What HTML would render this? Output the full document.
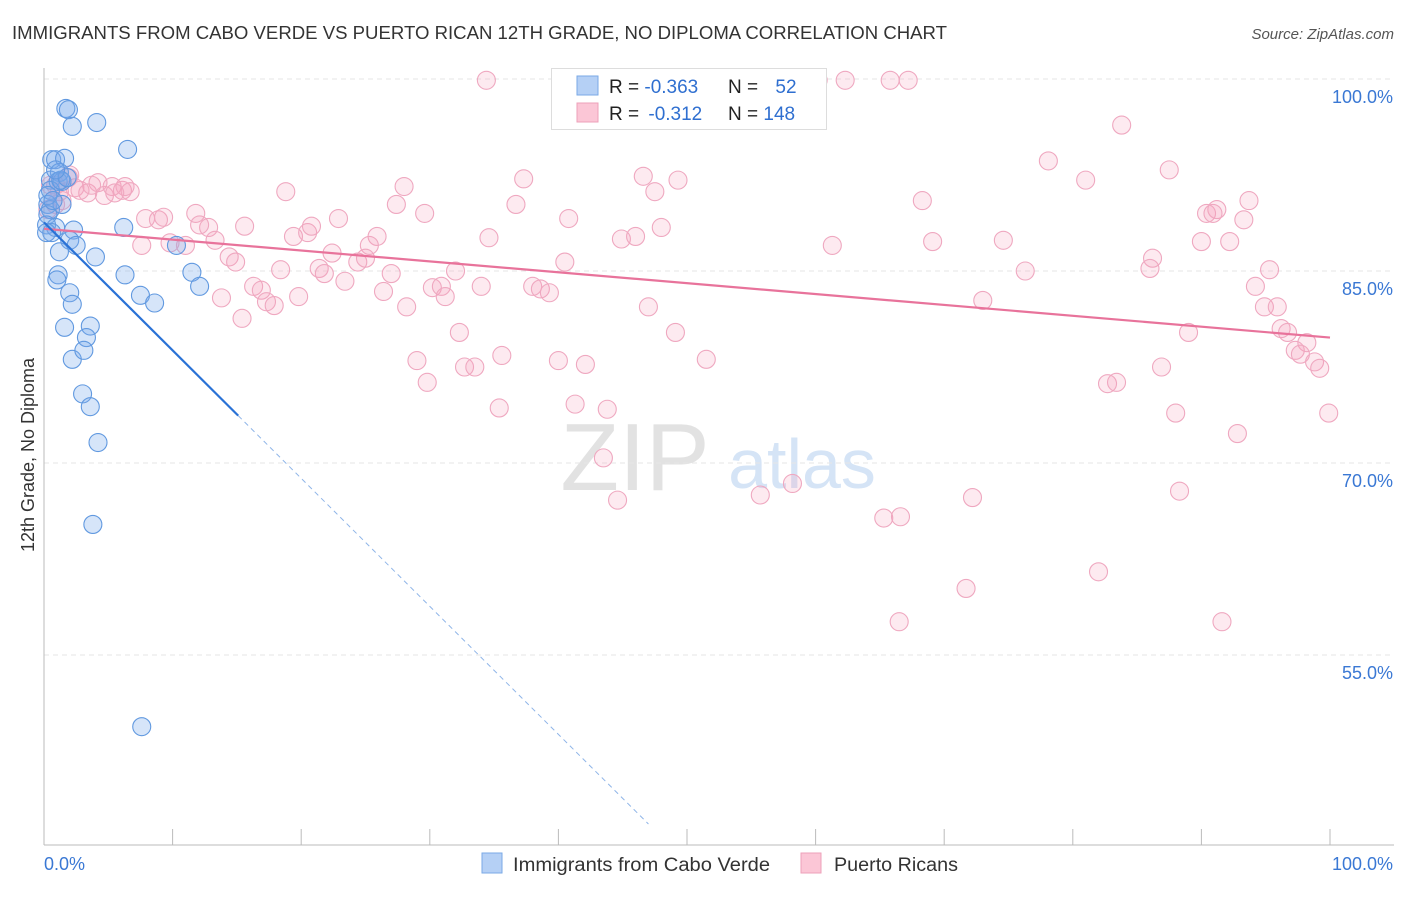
<!DOCTYPE html>
<html><head><meta charset="utf-8"><style>
body{margin:0;background:#fff;font-family:"Liberation Sans",sans-serif;}
svg text{font-family:"Liberation Sans",sans-serif;}
</style></head><body>
<svg id="c" width="1406" height="892" viewBox="0 0 1406 892">
<text x="12" y="39" font-size="18" fill="#333" textLength="935" lengthAdjust="spacingAndGlyphs">IMMIGRANTS FROM CABO VERDE VS PUERTO RICAN 12TH GRADE, NO DIPLOMA CORRELATION CHART</text>
<text x="1394" y="39" font-size="15" fill="#555" font-style="italic" text-anchor="end">Source: ZipAtlas.com</text>
<text x="635" y="490" font-size="96" fill="#e2e2e2" font-family="Liberation Serif" text-anchor="middle">ZIP</text>
<text x="802" y="488" font-size="70" fill="#d5e4f6" text-anchor="middle">atlas</text>
<g id="grid"></g><g id="axes"></g><g id="pts"></g><g id="lines"></g>
<text transform="translate(34,455) rotate(-90)" font-size="18" fill="#333" text-anchor="middle">12th Grade, No Diploma</text>
<g>
<rect x="551.5" y="68.5" width="275" height="61" fill="#fff" stroke="#ddd"/>
<rect x="577" y="76" width="21" height="19" fill="#b5d0f5" stroke="#7aa9e6"/>
<rect x="577" y="103" width="21" height="19" fill="#fbc6d6" stroke="#eea0b9"/>
<text x="609" y="93" font-size="19" fill="#222">R = <tspan fill="#2f6fd0">-0.363</tspan></text>
<text x="728" y="93" font-size="19" fill="#222">N = <tspan fill="#2f6fd0" dx="12">52</tspan></text>
<text x="609" y="120" font-size="19" fill="#222">R = <tspan fill="#2f6fd0" dx="4">-0.312</tspan></text>
<text x="728" y="120" font-size="19" fill="#222">N = <tspan fill="#2f6fd0">148</tspan></text>
</g>
<g>
<rect x="482" y="853" width="20" height="20" fill="#b5d0f5" stroke="#7aa9e6"/>
<text x="513" y="871" font-size="19" fill="#333" textLength="257" lengthAdjust="spacingAndGlyphs">Immigrants from Cabo Verde</text>
<rect x="801" y="853" width="20" height="20" fill="#fbc6d6" stroke="#eea0b9"/>
<text x="834" y="871" font-size="19" fill="#333" textLength="124" lengthAdjust="spacingAndGlyphs">Puerto Ricans</text>
</g>
</svg>
<script>
const blueX=[1.7,1.9,2.2,4.1,6.5,0.6,0.9,1.6,1.2,0.5,1.1,1.4,0.3,0.5,1.4,0.3,0.2,0.9,0.6,6.2,2.3,2.0,2.5,1.2,4.0,10.3,1.1,1.0,6.3,11.5,12.1,2.0,2.2,7.5,8.6,1.6,3.6,3.3,2.2,3.1,3.0,3.6,4.2,3.8,7.6,0.2,0.5,0.3,1.3,0.7,1.8,0.9];
const blueY=[97.7,97.6,96.3,96.6,94.5,93.7,93.7,93.8,92.7,92.1,92.0,92.0,90.2,89.8,90.2,89.4,88.6,88.4,88.0,88.4,88.2,87.4,87.0,86.5,86.1,87.0,84.7,84.3,84.7,84.9,83.8,83.3,82.4,83.1,82.5,80.6,80.7,79.8,78.1,78.8,75.4,74.4,71.6,65.2,49.4,88.0,91.3,90.9,92.1,90.5,92.3,92.9];
const pinkX=[34.4,59.7,60.2,62.3,65.8,67.2,83.8,78.1,87.5,81.0,46.6,37.3,49.3,47.5,28.0,18.8,36.7,27.4,29.6,68.3,93.7,90.4,91.2,90.9,93.3,40.8,22.9,7.9,8.9,9.3,11.8,12.8,12.1,15.6,9.8,11.0,13.3,19.4,20.5,20.8,25.9,25.3,7.6,34.6,44.9,46.0,48.0,61.3,69.1,74.6,90.0,92.2,14.4,14.9,22.4,24.4,25.0,40.5,86.2,86.0,18.4,21.4,21.8,23.4,27.0,32.0,76.3,95.3,16.3,16.9,19.8,17.3,17.9,13.8,26.4,30.2,30.9,31.2,34.0,38.0,38.6,39.3,28.2,47.0,73.0,94.2,94.9,95.9,15.4,32.3,49.1,89.0,96.2,96.7,98.2,97.3,97.7,98.8,99.2,29.0,32.7,33.5,35.6,40.0,42.1,51.5,86.9,29.8,82.7,83.4,35.4,41.3,43.8,88.0,99.9,92.8,43.5,44.6,55.7,58.2,72.2,88.3,65.3,66.6,82.0,71.7,66.5,91.6,0.9,1.2,1.9,2.4,3.4,4.2,4.7,5.3,6.1,6.7,6.3,3.7,1.4,0.5,2.0,0.9,0.3,2.8,5.5];
const pinkY=[99.9,99.9,99.9,99.9,99.9,99.9,96.4,93.6,92.9,92.1,92.4,92.2,92.1,91.2,91.6,91.2,90.2,90.2,89.5,90.5,90.5,89.5,89.8,89.5,89.0,89.1,89.1,89.1,89.0,89.2,89.5,88.4,88.6,88.5,87.2,87.0,87.4,87.7,88.0,88.5,87.7,87.0,87.0,87.6,87.5,87.7,88.4,87.0,87.3,87.4,87.3,87.3,86.1,85.7,86.4,85.7,86.0,85.7,86.0,85.2,85.1,85.2,84.8,84.2,84.8,85.0,85.0,85.1,83.8,83.5,83.0,82.6,82.3,82.9,83.4,83.7,83.8,83.0,83.8,83.8,83.6,83.3,82.2,82.2,82.7,83.8,82.2,82.2,81.3,80.2,80.2,80.2,80.5,80.2,79.4,78.8,78.5,77.9,77.4,78.0,77.5,77.5,78.4,78.0,77.7,78.1,77.5,76.3,76.2,76.3,74.3,74.6,74.2,73.9,73.9,72.3,70.4,67.1,67.5,68.4,67.3,67.8,65.7,65.8,61.5,60.2,57.6,57.6,91.7,91.2,92.3,91.5,91.1,91.9,90.9,91.6,91.3,91.2,91.6,91.7,90.5,91.7,92.5,90.2,89.8,91.3,91.1];
const yTicks=[100,85,70,55];
const yTickLabels=["100.0%","85.0%","70.0%","55.0%"];
const xTickVals=[0,10,20,30,40,50,60,70,80,90,100];
const blueTrend=[88.8,-1.0];
const pinkTrend=[88.3,-0.085];
const X0=44,X1=1330,Yt=79;
const sx=v=>X0+(v/100)*(X1-X0);
const sy=v=>Yt+(100-v)*12.8;
const NS="http://www.w3.org/2000/svg";
function mk(p,t,a){const e=document.createElementNS(NS,t);for(const k in a)e.setAttribute(k,a[k]);p.appendChild(e);return e;}
const grid=document.getElementById('grid'),axes=document.getElementById('axes'),pts=document.getElementById('pts'),lines=document.getElementById('lines');
yTicks.forEach((v,i)=>{
 const l=mk(grid,'line',{x1:44,x2:1394,y1:sy(v),y2:sy(v),stroke:'#e6e6e6','stroke-dasharray':'5,4'});
 
 
 const t=mk(grid,'text',{x:1393,y:sy(v)+24,'font-size':18,fill:'#3a78d4','text-anchor':'end'});
 t.textContent=yTickLabels[i];
 
 
});
const ax=mk(axes,'line',{x1:44,x2:44,y1:68,y2:845,stroke:'#bbb'});


const bx=mk(axes,'line',{x1:44,x2:1394,y1:845,y2:845,stroke:'#bbb'});


xTickVals.forEach(v=>{
 const t=mk(axes,'line',{x1:sx(v),x2:sx(v),y1:829,y2:845,stroke:'#bbb'});
 
 
});
const xl0=mk(axes,'text',{x:44,y:870,'font-size':18,fill:'#3a78d4'});xl0.textContent='0.0%';


const xl1=mk(axes,'text',{x:1393,y:870,'font-size':18,fill:'#3a78d4','text-anchor':'end'});xl1.textContent='100.0%';


pinkX.forEach((x,i)=>{
 const c=mk(pts,'circle',{cx:sx(x),cy:sy(pinkY[i]),r:9,fill:'rgba(244,160,188,0.22)',stroke:'#efa8c0','stroke-width':1.1});
 
 
});
blueX.forEach((x,i)=>{
 const c=mk(pts,'circle',{cx:sx(x),cy:sy(blueY[i]),r:9,fill:'rgba(120,170,235,0.3)',stroke:'#6199e0','stroke-width':1.1});
 
 
});
const pl=mk(lines,'line',{x1:sx(0),y1:sy(pinkTrend[0]),x2:sx(100),y2:sy(pinkTrend[0]+pinkTrend[1]*100),stroke:'#e8739b','stroke-width':2.2});


const bl=mk(lines,'line',{x1:sx(0),y1:sy(blueTrend[0]),x2:sx(15.1),y2:sy(blueTrend[0]+blueTrend[1]*15.1),stroke:'#2a72d6','stroke-width':2.2});


const bd=mk(lines,'line',{x1:sx(15.1),y1:sy(blueTrend[0]+blueTrend[1]*15.1),x2:sx(47),y2:sy(blueTrend[0]+blueTrend[1]*47),stroke:'#8fb5e8','stroke-width':1,'stroke-dasharray':'5,4'});


</script>
</body></html>
